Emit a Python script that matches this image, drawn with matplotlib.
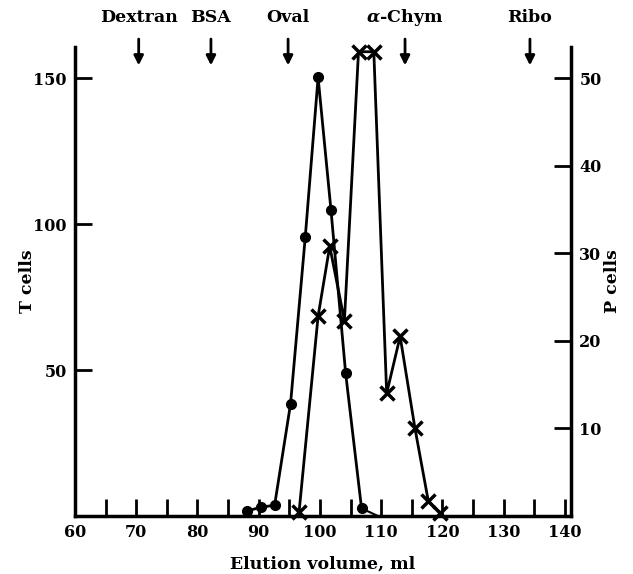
import matplotlib
matplotlib.use('Agg')
import matplotlib.pyplot as plt

# T cells (dots), left axis
t_vol = [88.1, 90.3, 92.6, 95.2, 97.6, 99.7, 101.8, 104.2, 106.8, 109.5]
t_cells = [1.7, 3.0, 3.7, 38.4, 95.4, 150.2, 104.9, 48.9, 2.6, 0.0]

# P cells (crosses), right axis
p_vol = [96.6, 99.7, 101.6, 104.0, 106.3, 108.8, 110.9, 113.1, 115.5, 117.7, 119.6]
p_cells = [0.5, 22.8, 30.8, 22.3, 53.0, 53.0, 14.0, 20.5, 10.1, 1.7, 0.4]

# marker proteins
markers = ['Dextran', 'BSA', 'Oval', r'$\alpha$-Chym', 'Ribo']
marker_vol = [70.4, 82.2, 94.8, 113.9, 134.3]

plt.rcParams['font.family'] = ['DejaVu Serif']
plt.rcParams['font.weight'] = 'bold'
plt.rcParams['axes.labelweight'] = 'bold'
plt.rcParams['mathtext.fontset'] = 'dejavuserif'

fig = plt.figure(figsize=(6.33, 5.74), dpi=100)
ax = fig.add_axes([0.1185, 0.101, 0.7835, 0.817])
ax2 = ax.twinx()

ax.plot(t_vol[:-1], t_cells[:-1], 'k-o', lw=2, ms=7, clip_on=False, zorder=3)
ax.plot(t_vol[-2:], t_cells[-2:], 'k-', lw=1.5)
ax2.plot(p_vol, p_cells, 'k-x', lw=2, ms=10, mew=2.5, clip_on=False, zorder=3)

ax.set_xlim(60, 141)
ax.set_ylim(0, 160.6)
ax2.set_ylim(0, 160.6 / 3)

ax.set_xticks(range(60, 141, 10))
ax.set_xticks(range(65, 140, 10), minor=True)
ax.set_yticks([50, 100, 150])
ax2.set_yticks([10, 20, 30, 40, 50])

for a in (ax, ax2):
    a.spines['top'].set_visible(False)
    for s in a.spines.values():
        s.set_linewidth(2.5)
ax2.spines['left'].set_visible(False)
ax2.spines['bottom'].set_visible(False)
ax.spines['right'].set_visible(False)

ax.tick_params(axis='both', which='both', direction='in', length=12, width=2,
               labelsize=11.5, pad=6)
ax2.tick_params(axis='y', direction='in', length=12, width=2, labelsize=11.5, pad=6)

ax.set_xlabel('Elution volume, ml', fontsize=12.5, labelpad=10)
ax.set_ylabel('T cells', fontsize=12.5, labelpad=-2)
ax2.set_ylabel('P cells', fontsize=12.5, labelpad=2)

for name, v in zip(markers, marker_vol):
    ax.annotate('', xy=(v, 0.955), xytext=(v, 1.023),
                xycoords=('data', 'axes fraction'),
                textcoords=('data', 'axes fraction'),
                arrowprops=dict(arrowstyle='-|>', color='k', lw=2,
                                mutation_scale=14))
    ax.text(v, 1.062, name, transform=ax.get_xaxis_transform(),
            ha='center', va='center', fontsize=12.5)

fig.savefig('out.png', dpi=100)
